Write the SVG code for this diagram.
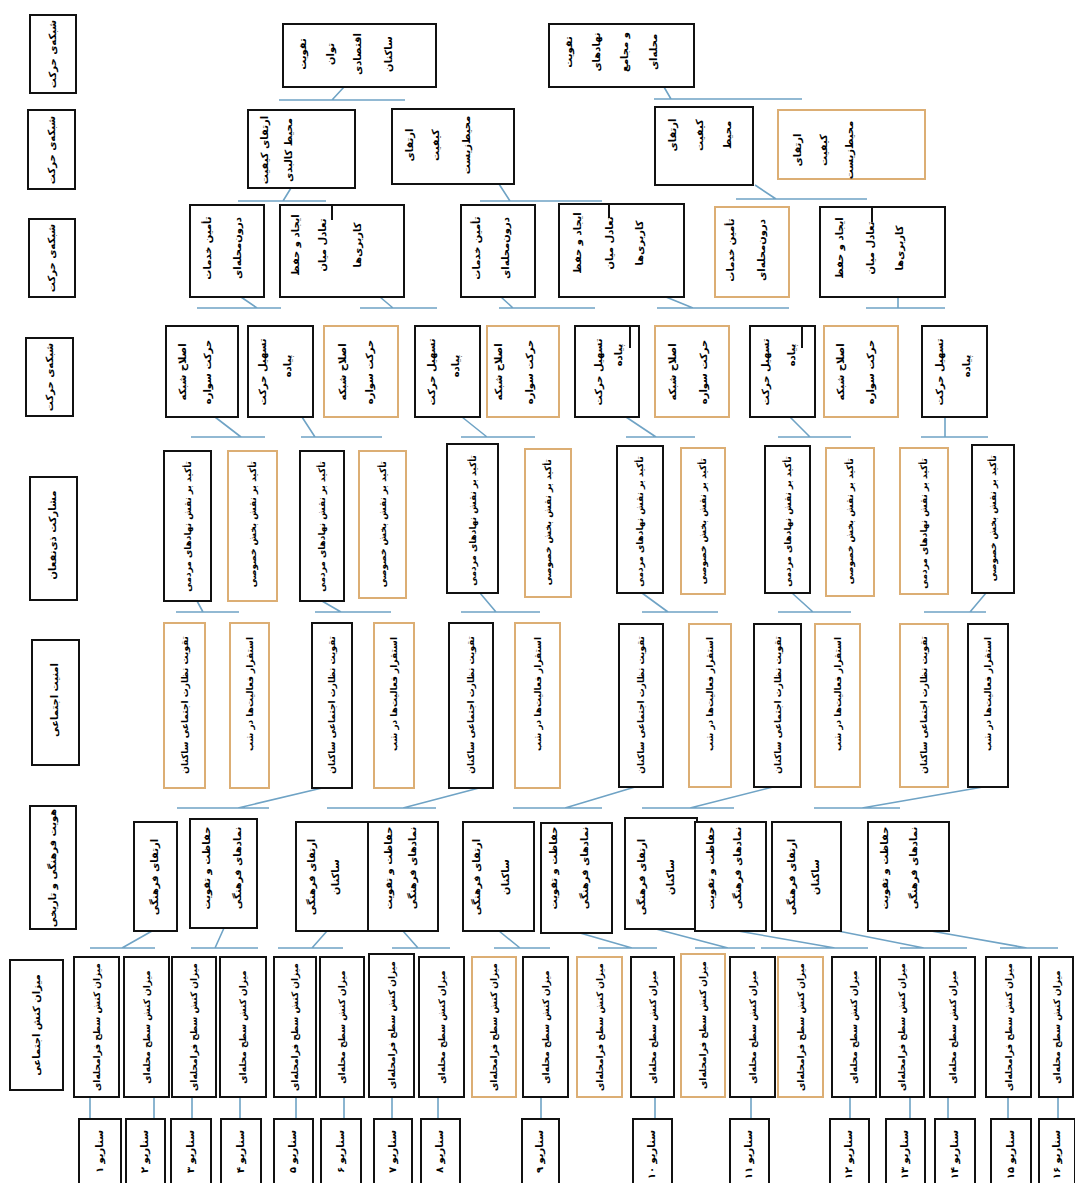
<svg xmlns="http://www.w3.org/2000/svg" width="1075" height="1183" viewBox="0 0 1075 1183">
<style>
.b{fill:#fff;stroke:#111;stroke-width:2}
.o{fill:#fff;stroke:#dcae74;stroke-width:2}
.k{stroke:#111;stroke-width:2}
.c{fill:none;stroke:#6fa3c5;stroke-width:1.6}
.t{font-family:"DejaVu Sans","Noto Sans",sans-serif;font-weight:bold;font-size:10px;fill:#000}
#row5 .t,#row6 .t,#row8 .t{font-size:9px}
.m{text-anchor:middle}
.s{text-anchor:end}
</style>
<rect width="1075" height="1183" fill="#fff"/>

<g id="labels">
<g id="lab1"><rect class="b" x="30" y="15" width="46" height="78"/><text class="t m" transform="translate(56,54) rotate(-90)">شبکه‌ی حرکت</text></g>
<g id="lab2"><rect class="b" x="28" y="110" width="47" height="79"/><text class="t m" transform="translate(55,150) rotate(-90)">شبکه‌ی حرکت</text></g>
<g id="lab3"><rect class="b" x="29" y="219" width="46" height="78"/><text class="t m" transform="translate(55,258) rotate(-90)">شبکه‌ی حرکت</text></g>
<g id="lab4"><rect class="b" x="26" y="338" width="47" height="78"/><text class="t m" transform="translate(53,377) rotate(-90)">شبکه‌ی حرکت</text></g>
<g id="lab5"><rect class="b" x="30" y="477" width="47" height="123"/><text class="t m" transform="translate(56,535) rotate(-90)">مشارکت ذی‌نفعان</text></g>
<g id="lab6"><rect class="b" x="32" y="640" width="47" height="125"/><text class="t m" transform="translate(58,700) rotate(-90)">امنیت اجتماعی</text></g>
<g id="lab7"><rect class="b" x="30" y="806" width="46" height="123"/><text class="t m" transform="translate(56,868) rotate(-90)">هویت فرهنگی و تاریخی</text></g>
<g id="lab8"><rect class="b" x="10" y="960" width="53" height="130"/><text class="t m" transform="translate(40,1025) rotate(-90)">میزان کنش اجتماعی</text></g>
</g>

<g id="connectors" class="c">
<path d="M344 87L332 100M279 100H405"/>
<path d="M664 87L671 99M654 99H802"/>
<path d="M291 188L283 201M238 201H326"/>
<path d="M499 184L510 201M480 201H602"/>
<path d="M755 185L776 199M736 199H867"/>
<path d="M241 297L257 308M197 308H281"/>
<path d="M380 297L393 308M360 308H437"/>
<path d="M501 297L513 308M499 308H595"/>
<path d="M666 297L693 308M657 308H789"/>
<path d="M898 297V308M866 308H945"/>
<path d="M215 417L241 437M191 437H265"/>
<path d="M302 417L315 437M301 437H382"/>
<path d="M462 417L487 437M461 437H535"/>
<path d="M626 417L656 437M626 437H695"/>
<path d="M790 417L810 437M778 437H851"/>
<path d="M945 417V437M921 437H988"/>
<path d="M197 601L203 612M176 612H239"/>
<path d="M322 601L341 612M315 612H391"/>
<path d="M480 593L496 612M461 612H540"/>
<path d="M642 593L668 612M642 612H718"/>
<path d="M792 593L813 612M778 612H851"/>
<path d="M986 593L970 612M924 612H986"/>
<path d="M322 788L238 808M177 808H269"/>
<path d="M479 788L403 808M327 808H436"/>
<path d="M635 787L565 808M513 808H602"/>
<path d="M773 787L690 808M642 808H734"/>
<path d="M983 787L862 808M814 808H900"/>
<path d="M152 931L122 948M90 948H155"/>
<path d="M224 928L215 948M191 948H258"/>
<path d="M327 931L312 948M278 948H343"/>
<path d="M403 931L418 948M392 948H450"/>
<path d="M499 931L520 948M494 948H550"/>
<path d="M580 933L632 948M598 948H657"/>
<path d="M656 929L728 948M695 948H755"/>
<path d="M738 931L835 948M761 948H868"/>
<path d="M838 931L924 948M900 948H967"/>
<path d="M931 931L1027 948M1000 948H1058"/>
<path d="M90 1097V1119M154 1097V1119M192 1097V1119M240 1097V1119M296 1097V1119M344 1097V1119M392 1097V1119M438 1097V1119M541 1097V1119M655 1097V1119M751 1097V1119M850 1097V1119M910 1097V1119M948 1097V1119M1008 1097V1119M1058 1097V1119"/>
</g>

<g id="row1">
<g id="n1a"><rect class="b" x="283" y="24" width="153" height="63"/>
<text class="t m" transform="translate(306,54) rotate(-90)">تقویت</text>
<text class="t m" transform="translate(334,54) rotate(-90)">توان</text>
<text class="t m" transform="translate(361,54) rotate(-90)">اقتصادی</text>
<text class="t m" transform="translate(392,54) rotate(-90)">ساکنان</text></g>
<g id="n1b"><rect class="b" x="549" y="24" width="145" height="63"/>
<text class="t m" transform="translate(572,52) rotate(-90)">تقویت</text>
<text class="t m" transform="translate(600,52) rotate(-90)">نهادهای</text>
<text class="t m" transform="translate(628,52) rotate(-90)">و مجامع</text>
<text class="t m" transform="translate(657,52) rotate(-90)">محله‌ای</text></g>
</g>

<g id="row2">
<g id="n2a"><rect class="b" x="248" y="110" width="107" height="78"/>
<text class="t m" transform="translate(268,150) rotate(-90)">ارتقای کیفیت</text>
<text class="t m" transform="translate(292,150) rotate(-90)">محیط کالبدی</text></g>
<g id="n2b"><rect class="b" x="392" y="109" width="122" height="75"/>
<text class="t m" transform="translate(413,145) rotate(-90)">ارتقای</text>
<text class="t m" transform="translate(439,145) rotate(-90)">کیفیت</text>
<text class="t m" transform="translate(470,145) rotate(-90)">محیط‌زیست</text></g>
<g id="n2c"><rect class="b" x="655" y="107" width="98" height="78"/>
<text class="t m" transform="translate(676,135) rotate(-90)">ارتقای</text>
<text class="t m" transform="translate(703,135) rotate(-90)">کیفیت</text>
<text class="t m" transform="translate(731,135) rotate(-90)">محیط</text></g>
<g id="n2d"><rect class="o" x="778" y="110" width="147" height="69"/>
<text class="t m" transform="translate(801,150) rotate(-90)">ارتقای</text>
<text class="t m" transform="translate(827,150) rotate(-90)">کیفیت</text>
<text class="t m" transform="translate(853,150) rotate(-90)">محیط‌زیست</text></g>
</g>

<g id="row3">
<g id="n3a"><rect class="b" x="190" y="205" width="74" height="92"/>
<text class="t m" transform="translate(211,248) rotate(-90)">تأمین خدمات</text>
<text class="t m" transform="translate(241,248) rotate(-90)">درون‌محله‌ای</text></g>
<g id="n3b"><rect class="b" x="280" y="205" width="124" height="92"/><path class="k" d="M332 205V220"/>
<text class="t m" transform="translate(299,245) rotate(-90)">ایجاد و حفظ</text>
<text class="t m" transform="translate(326,245) rotate(-90)">تعادل میان</text>
<text class="t m" transform="translate(361,245) rotate(-90)">کاربری‌ها</text></g>
<g id="n3c"><rect class="b" x="461" y="205" width="74" height="92"/>
<text class="t m" transform="translate(480,248) rotate(-90)">تأمین خدمات</text>
<text class="t m" transform="translate(509,248) rotate(-90)">درون‌محله‌ای</text></g>
<g id="n3d"><rect class="b" x="559" y="204" width="125" height="93"/><path class="k" d="M609 204V218"/>
<text class="t m" transform="translate(581,243) rotate(-90)">ایجاد و حفظ</text>
<text class="t m" transform="translate(613,243) rotate(-90)">تعادل میان</text>
<text class="t m" transform="translate(643,243) rotate(-90)">کاربری‌ها</text></g>
<g id="n3e"><rect class="o" x="715" y="207" width="74" height="90"/>
<text class="t m" transform="translate(734,250) rotate(-90)">تأمین خدمات</text>
<text class="t m" transform="translate(765,250) rotate(-90)">درون‌محله‌ای</text></g>
<g id="n3f"><rect class="b" x="820" y="207" width="125" height="90"/><path class="k" d="M872 207V222"/>
<text class="t m" transform="translate(843,248) rotate(-90)">ایجاد و حفظ</text>
<text class="t m" transform="translate(874,248) rotate(-90)">تعادل میان</text>
<text class="t m" transform="translate(903,248) rotate(-90)">کاربری‌ها</text></g>
</g>

<g id="row4">
<g id="n4a"><rect class="b" x="166" y="326" width="72" height="91"/>
<text class="t m" transform="translate(186,372) rotate(-90)">اصلاح شبکه</text>
<text class="t m" transform="translate(211,372) rotate(-90)">حرکت سواره</text></g>
<g id="n4b"><rect class="b" x="248" y="326" width="65" height="91"/>
<text class="t m" transform="translate(266,372) rotate(-90)">تسهیل حرکت</text>
<text class="t m" transform="translate(291,366) rotate(-90)">پیاده</text></g>
<g id="n4c"><rect class="o" x="324" y="326" width="74" height="91"/>
<text class="t m" transform="translate(346,372) rotate(-90)">اصلاح شبکه</text>
<text class="t m" transform="translate(373,372) rotate(-90)">حرکت سواره</text></g>
<g id="n4d"><rect class="b" x="415" y="326" width="65" height="91"/>
<text class="t m" transform="translate(435,372) rotate(-90)">تسهیل حرکت</text>
<text class="t m" transform="translate(459,366) rotate(-90)">پیاده</text></g>
<g id="n4e"><rect class="o" x="487" y="326" width="72" height="91"/>
<text class="t m" transform="translate(502,372) rotate(-90)">اصلاح شبکه</text>
<text class="t m" transform="translate(533,372) rotate(-90)">حرکت سواره</text></g>
<g id="n4f"><rect class="b" x="575" y="326" width="64" height="91"/><path class="k" d="M630 326V348"/>
<text class="t m" transform="translate(602,372) rotate(-90)">تسهیل حرکت</text>
<text class="t m" transform="translate(622,355) rotate(-90)">پیاده</text></g>
<g id="n4g"><rect class="o" x="655" y="326" width="74" height="91"/>
<text class="t m" transform="translate(676,372) rotate(-90)">اصلاح شبکه</text>
<text class="t m" transform="translate(707,372) rotate(-90)">حرکت سواره</text></g>
<g id="n4h"><rect class="b" x="750" y="326" width="65" height="91"/><path class="k" d="M802 326V348"/>
<text class="t m" transform="translate(769,372) rotate(-90)">تسهیل حرکت</text>
<text class="t m" transform="translate(795,355) rotate(-90)">پیاده</text></g>
<g id="n4i"><rect class="o" x="824" y="326" width="74" height="91"/>
<text class="t m" transform="translate(844,372) rotate(-90)">اصلاح شبکه</text>
<text class="t m" transform="translate(874,372) rotate(-90)">حرکت سواره</text></g>
<g id="n4j"><rect class="b" x="922" y="326" width="65" height="91"/>
<text class="t m" transform="translate(943,372) rotate(-90)">تسهیل حرکت</text>
<text class="t m" transform="translate(970,366) rotate(-90)">پیاده</text></g>
</g>

<g id="row5">
<g id="n5a"><rect class="b" x="164" y="451" width="47" height="150"/><text class="t s" transform="translate(191,461) rotate(-90)">تأکید بر نقش نهادهای مردمی</text></g>
<g id="n5b"><rect class="o" x="228" y="451" width="49" height="150"/><text class="t s" transform="translate(256,461) rotate(-90)">تأکید بر نقش بخش خصوصی</text></g>
<g id="n5c"><rect class="b" x="300" y="451" width="44" height="150"/><text class="t s" transform="translate(325,461) rotate(-90)">تأکید بر نقش نهادهای مردمی</text></g>
<g id="n5d"><rect class="o" x="359" y="451" width="47" height="147"/><text class="t s" transform="translate(386,461) rotate(-90)">تأکید بر نقش بخش خصوصی</text></g>
<g id="n5e"><rect class="b" x="447" y="444" width="51" height="149"/><text class="t s" transform="translate(476,455) rotate(-90)">تأکید بر نقش نهادهای مردمی</text></g>
<g id="n5f"><rect class="o" x="525" y="449" width="46" height="148"/><text class="t s" transform="translate(551,459) rotate(-90)">تأکید بر نقش بخش خصوصی</text></g>
<g id="n5g"><rect class="b" x="617" y="446" width="46" height="147"/><text class="t s" transform="translate(643,456) rotate(-90)">تأکید بر نقش نهادهای مردمی</text></g>
<g id="n5h"><rect class="o" x="681" y="448" width="44" height="146"/><text class="t s" transform="translate(706,458) rotate(-90)">تأکید بر نقش بخش خصوصی</text></g>
<g id="n5i"><rect class="b" x="765" y="446" width="45" height="147"/><text class="t s" transform="translate(791,456) rotate(-90)">تأکید بر نقش نهادهای مردمی</text></g>
<g id="n5j"><rect class="o" x="826" y="448" width="48" height="148"/><text class="t s" transform="translate(853,458) rotate(-90)">تأکید بر نقش بخش خصوصی</text></g>
<g id="n5k"><rect class="o" x="900" y="448" width="48" height="146"/><text class="t s" transform="translate(927,458) rotate(-90)">تأکید بر نقش نهادهای مردمی</text></g>
<g id="n5l"><rect class="b" x="972" y="445" width="42" height="148"/><text class="t s" transform="translate(996,455) rotate(-90)">تأکید بر نقش بخش خصوصی</text></g>
</g>

<g id="row6">
<g id="n6a"><rect class="o" x="164" y="623" width="41" height="165"/><text class="t s" transform="translate(188,636) rotate(-90)">تقویت نظارت اجتماعی ساکنان</text></g>
<g id="n6b"><rect class="o" x="230" y="623" width="39" height="165"/><text class="t s" transform="translate(253,637) rotate(-90)">استقرار فعالیت‌ها در شب</text></g>
<g id="n6c"><rect class="b" x="312" y="623" width="40" height="165"/><text class="t s" transform="translate(335,636) rotate(-90)">تقویت نظارت اجتماعی ساکنان</text></g>
<g id="n6d"><rect class="o" x="374" y="623" width="40" height="165"/><text class="t s" transform="translate(397,637) rotate(-90)">استقرار فعالیت‌ها در شب</text></g>
<g id="n6e"><rect class="b" x="449" y="623" width="44" height="165"/><text class="t s" transform="translate(474,636) rotate(-90)">تقویت نظارت اجتماعی ساکنان</text></g>
<g id="n6f"><rect class="o" x="515" y="623" width="45" height="165"/><text class="t s" transform="translate(541,637) rotate(-90)">استقرار فعالیت‌ها در شب</text></g>
<g id="n6g"><rect class="b" x="619" y="624" width="44" height="163"/><text class="t s" transform="translate(644,636) rotate(-90)">تقویت نظارت اجتماعی ساکنان</text></g>
<g id="n6h"><rect class="o" x="689" y="624" width="42" height="163"/><text class="t s" transform="translate(713,637) rotate(-90)">استقرار فعالیت‌ها در شب</text></g>
<g id="n6i"><rect class="b" x="754" y="624" width="47" height="163"/><text class="t s" transform="translate(781,636) rotate(-90)">تقویت نظارت اجتماعی ساکنان</text></g>
<g id="n6j"><rect class="o" x="815" y="624" width="45" height="163"/><text class="t s" transform="translate(841,637) rotate(-90)">استقرار فعالیت‌ها در شب</text></g>
<g id="n6k"><rect class="o" x="900" y="624" width="48" height="163"/><text class="t s" transform="translate(927,636) rotate(-90)">تقویت نظارت اجتماعی ساکنان</text></g>
<g id="n6l"><rect class="b" x="968" y="624" width="40" height="163"/><text class="t s" transform="translate(991,637) rotate(-90)">استقرار فعالیت‌ها در شب</text></g>
</g>

<g id="row7">
<g id="n7a"><rect class="b" x="134" y="822" width="43" height="109"/><text class="t m" transform="translate(158,877) rotate(-90)">ارتقای فرهنگی</text></g>
<g id="n7b"><rect class="b" x="190" y="819" width="67" height="109"/>
<text class="t m" transform="translate(210,868) rotate(-90)">حفاظت و تقویت</text>
<text class="t m" transform="translate(241,868) rotate(-90)">نمادهای فرهنگی</text></g>
<g id="n7c"><rect class="b" x="296" y="822" width="72" height="109"/>
<text class="t m" transform="translate(315,877) rotate(-90)">ارتقای فرهنگی</text>
<text class="t m" transform="translate(339,877) rotate(-90)">ساکنان</text></g>
<g id="n7d"><rect class="b" x="368" y="822" width="70" height="109"/>
<text class="t m" transform="translate(392,868) rotate(-90)">حفاظت و تقویت</text>
<text class="t m" transform="translate(416,868) rotate(-90)">نمادهای فرهنگی</text></g>
<g id="n7e"><rect class="b" x="463" y="822" width="71" height="109"/>
<text class="t m" transform="translate(480,877) rotate(-90)">ارتقای فرهنگی</text>
<text class="t m" transform="translate(509,877) rotate(-90)">ساکنان</text></g>
<g id="n7f"><rect class="b" x="541" y="823" width="71" height="110"/>
<text class="t m" transform="translate(557,868) rotate(-90)">حفاظت و تقویت</text>
<text class="t m" transform="translate(588,868) rotate(-90)">نمادهای فرهنگی</text></g>
<g id="n7g"><rect class="b" x="625" y="818" width="72" height="111"/>
<text class="t m" transform="translate(645,877) rotate(-90)">ارتقای فرهنگی</text>
<text class="t m" transform="translate(674,877) rotate(-90)">ساکنان</text></g>
<g id="n7h"><rect class="b" x="695" y="822" width="71" height="109"/>
<text class="t m" transform="translate(714,868) rotate(-90)">حفاظت و تقویت</text>
<text class="t m" transform="translate(741,868) rotate(-90)">نمادهای فرهنگی</text></g>
<g id="n7i"><rect class="b" x="772" y="822" width="69" height="109"/>
<text class="t m" transform="translate(795,877) rotate(-90)">ارتقای فرهنگی</text>
<text class="t m" transform="translate(819,877) rotate(-90)">ساکنان</text></g>
<g id="n7j"><rect class="b" x="868" y="822" width="81" height="109"/>
<text class="t m" transform="translate(888,868) rotate(-90)">حفاظت و تقویت</text>
<text class="t m" transform="translate(917,868) rotate(-90)">نمادهای فرهنگی</text></g>
</g>

<g id="row8">
<g id="n8a"><rect class="b" x="74" y="957" width="45" height="140"/><text class="t m" transform="translate(100,1027) rotate(-90)">میزان کنش سطح فرامحله‌ای</text></g>
<g id="n8b"><rect class="b" x="124" y="957" width="45" height="140"/><text class="t m" transform="translate(150,1027) rotate(-90)">میزان کنش سطح محله‌ای</text></g>
<g id="n8c"><rect class="b" x="172" y="957" width="44" height="140"/><text class="t m" transform="translate(197,1027) rotate(-90)">میزان کنش سطح فرامحله‌ای</text></g>
<g id="n8d"><rect class="b" x="220" y="957" width="46" height="140"/><text class="t m" transform="translate(246,1027) rotate(-90)">میزان کنش سطح محله‌ای</text></g>
<g id="n8e"><rect class="b" x="274" y="957" width="42" height="140"/><text class="t m" transform="translate(298,1027) rotate(-90)">میزان کنش سطح فرامحله‌ای</text></g>
<g id="n8f"><rect class="b" x="320" y="957" width="44" height="140"/><text class="t m" transform="translate(345,1027) rotate(-90)">میزان کنش سطح محله‌ای</text></g>
<g id="n8g"><rect class="b" x="369" y="954" width="45" height="143"/><text class="t m" transform="translate(395,1025) rotate(-90)">میزان کنش سطح فرامحله‌ای</text></g>
<g id="n8h"><rect class="b" x="419" y="957" width="45" height="140"/><text class="t m" transform="translate(445,1027) rotate(-90)">میزان کنش سطح محله‌ای</text></g>
<g id="n8i"><rect class="o" x="472" y="957" width="44" height="140"/><text class="t m" transform="translate(497,1027) rotate(-90)">میزان کنش سطح فرامحله‌ای</text></g>
<g id="n8j"><rect class="b" x="523" y="957" width="45" height="140"/><text class="t m" transform="translate(549,1027) rotate(-90)">میزان کنش سطح محله‌ای</text></g>
<g id="n8k"><rect class="o" x="577" y="957" width="45" height="140"/><text class="t m" transform="translate(603,1027) rotate(-90)">میزان کنش سطح فرامحله‌ای</text></g>
<g id="n8l"><rect class="b" x="631" y="957" width="43" height="140"/><text class="t m" transform="translate(656,1027) rotate(-90)">میزان کنش سطح محله‌ای</text></g>
<g id="n8m"><rect class="o" x="681" y="954" width="44" height="143"/><text class="t m" transform="translate(706,1025) rotate(-90)">میزان کنش سطح فرامحله‌ای</text></g>
<g id="n8n"><rect class="b" x="730" y="957" width="45" height="140"/><text class="t m" transform="translate(756,1027) rotate(-90)">میزان کنش سطح محله‌ای</text></g>
<g id="n8o"><rect class="o" x="778" y="957" width="45" height="140"/><text class="t m" transform="translate(804,1027) rotate(-90)">میزان کنش سطح فرامحله‌ای</text></g>
<g id="n8p"><rect class="b" x="832" y="957" width="44" height="140"/><text class="t m" transform="translate(857,1027) rotate(-90)">میزان کنش سطح محله‌ای</text></g>
<g id="n8q"><rect class="b" x="880" y="957" width="44" height="140"/><text class="t m" transform="translate(905,1027) rotate(-90)">میزان کنش سطح فرامحله‌ای</text></g>
<g id="n8r"><rect class="b" x="930" y="957" width="45" height="140"/><text class="t m" transform="translate(956,1027) rotate(-90)">میزان کنش سطح محله‌ای</text></g>
<g id="n8s"><rect class="b" x="986" y="957" width="45" height="140"/><text class="t m" transform="translate(1012,1027) rotate(-90)">میزان کنش سطح فرامحله‌ای</text></g>
<g id="n8t"><rect class="b" x="1039" y="957" width="34" height="140"/><text class="t m" transform="translate(1060,1027) rotate(-90)">میزان کنش سطح محله‌ای</text></g>
</g>

<g id="row9">
<g id="s1"><rect class="b" x="79" y="1119" width="42" height="75"/><text class="t s" transform="translate(103,1130) rotate(-90)">سناریو ۱</text></g>
<g id="s2"><rect class="b" x="126" y="1119" width="39" height="75"/><text class="t s" transform="translate(148,1130) rotate(-90)">سناریو ۲</text></g>
<g id="s3"><rect class="b" x="171" y="1119" width="40" height="75"/><text class="t s" transform="translate(194,1130) rotate(-90)">سناریو ۳</text></g>
<g id="s4"><rect class="b" x="221" y="1119" width="40" height="75"/><text class="t s" transform="translate(244,1130) rotate(-90)">سناریو ۴</text></g>
<g id="s5"><rect class="b" x="274" y="1119" width="39" height="75"/><text class="t s" transform="translate(296,1130) rotate(-90)">سناریو ۵</text></g>
<g id="s6"><rect class="b" x="321" y="1119" width="40" height="75"/><text class="t s" transform="translate(344,1130) rotate(-90)">سناریو ۶</text></g>
<g id="s7"><rect class="b" x="374" y="1119" width="38" height="75"/><text class="t s" transform="translate(396,1130) rotate(-90)">سناریو ۷</text></g>
<g id="s8"><rect class="b" x="421" y="1119" width="39" height="75"/><text class="t s" transform="translate(443,1130) rotate(-90)">سناریو ۸</text></g>
<g id="s9"><rect class="b" x="522" y="1119" width="37" height="75"/><text class="t s" transform="translate(543,1130) rotate(-90)">سناریو ۹</text></g>
<g id="s10"><rect class="b" x="633" y="1119" width="39" height="75"/><text class="t s" transform="translate(655,1130) rotate(-90)">سناریو ۱۰</text></g>
<g id="s11"><rect class="b" x="730" y="1119" width="39" height="75"/><text class="t s" transform="translate(752,1130) rotate(-90)">سناریو ۱۱</text></g>
<g id="s12"><rect class="b" x="830" y="1119" width="39" height="75"/><text class="t s" transform="translate(852,1130) rotate(-90)">سناریو ۱۲</text></g>
<g id="s13"><rect class="b" x="886" y="1119" width="39" height="75"/><text class="t s" transform="translate(908,1130) rotate(-90)">سناریو ۱۳</text></g>
<g id="s14"><rect class="b" x="935" y="1119" width="40" height="75"/><text class="t s" transform="translate(958,1130) rotate(-90)">سناریو ۱۴</text></g>
<g id="s15"><rect class="b" x="991" y="1119" width="40" height="75"/><text class="t s" transform="translate(1014,1130) rotate(-90)">سناریو ۱۵</text></g>
<g id="s16"><rect class="b" x="1039" y="1119" width="36" height="75"/><text class="t s" transform="translate(1060,1130) rotate(-90)">سناریو ۱۶</text></g>
</g>
</svg>
